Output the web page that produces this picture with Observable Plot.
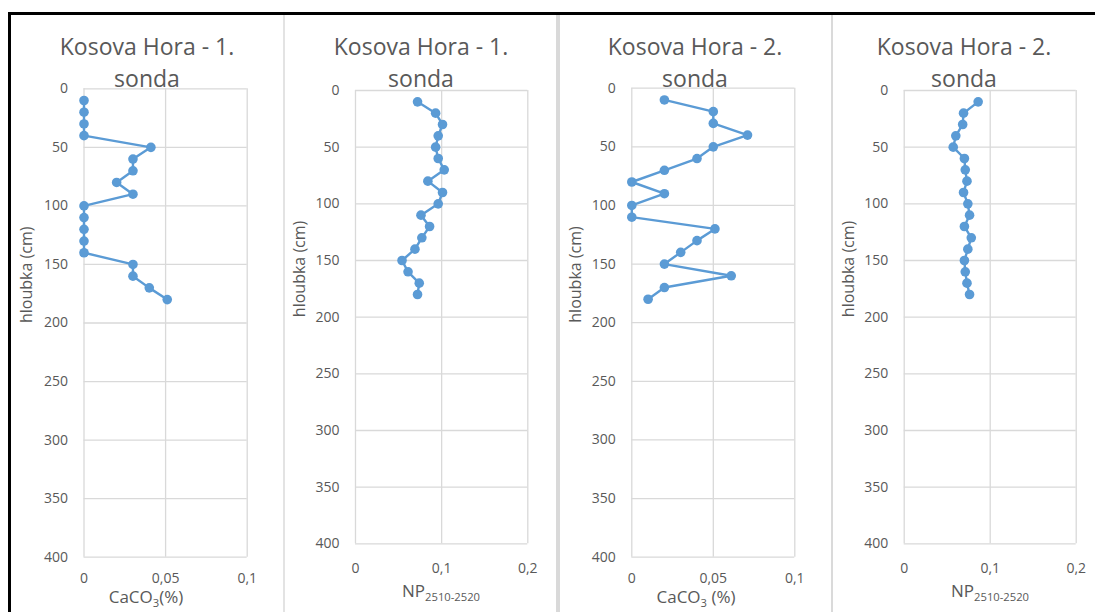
<!DOCTYPE html>
<html>
<head>
<meta charset="utf-8">
<script src="https://cdn.jsdelivr.net/npm/d3@7"></script>
<script src="https://cdn.jsdelivr.net/npm/@observablehq/plot@0.6"></script>
<style>
  html, body { margin: 0; padding: 0; background: #fff; }
  #root { position: relative; width: 1095px; height: 612px; overflow: hidden; font-family: "Open Sans", sans-serif; color: #595959; }
  .abs { position: absolute; }
  .title { font-size: 23px; line-height: 32px; text-align: center; white-space: nowrap; }
  .xlab { font-size: 17px; line-height: 20px; white-space: nowrap; transform: translateX(-50%); }
  .sub { font-size: 0.66em; position: relative; top: 0.4em; }
</style>
</head>
<body>
<div id="root"></div>
<script>
// ---- data ----
const depths = [10, 20, 30, 40, 50, 60, 70, 80, 90, 100, 110, 120, 130, 140, 150, 160, 170, 180];
const caco3Sonda1 = [0, 0, 0, 0, 0.041, 0.03, 0.03, 0.02, 0.03, 0, 0, 0, 0, 0, 0.03, 0.03, 0.04, 0.051];
const npSonda1 = [0.072, 0.093, 0.101, 0.096, 0.093, 0.096, 0.103, 0.084, 0.101, 0.096, 0.076, 0.086, 0.077, 0.069, 0.054, 0.061, 0.074, 0.072];
const caco3Sonda2 = [0.02, 0.05, 0.05, 0.071, 0.05, 0.04, 0.02, 0, 0.02, 0, 0, 0.051, 0.04, 0.03, 0.02, 0.061, 0.02, 0.01];
const npSonda2 = [0.086, 0.069, 0.068, 0.06, 0.057, 0.07, 0.071, 0.073, 0.069, 0.074, 0.076, 0.07, 0.078, 0.074, 0.07, 0.071, 0.073, 0.076];
const titles = ["Kosova Hora - 1.", "Kosova Hora - 1.", "Kosova Hora - 2.", "Kosova Hora - 2."];
const yLabel = "hloubka (cm)";
const depthTicks = [0, 50, 100, 150, 200, 250, 300, 350, 400];
const caco3Ticks = [0, 0.05, 0.1];
const npTicks = [0, 0.1, 0.2];

// ---- layout ----
const panels = [
  {values: caco3Sonda1, ticks: caco3Ticks, xlab: 'CaCO<span class="sub">3</span>(%)', left: 10, width: 274, x0: 83.5, x1: 246.7, y0: 88.3, y1: 556.7, tp: 16, ydx: -57, labX: 146, labTop: 587},
  {values: npSonda1, ticks: npTicks, xlab: 'NP<span class="sub">2510-2520</span>', left: 284, width: 274, x0: 355, x1: 527.3, y0: 90, y1: 543.3, tp: 19, ydx: -56, labX: 441, labTop: 581},
  {values: caco3Sonda2, ticks: caco3Ticks, xlab: 'CaCO<span class="sub">3</span> (%)', left: 558, width: 274, x0: 631.3, x1: 794.3, y0: 87.7, y1: 556.7, tp: 16, ydx: -56, labX: 696, labTop: 587},
  {values: npSonda2, ticks: npTicks, xlab: 'NP<span class="sub">2510-2520</span>', left: 833, width: 262, x0: 903.7, x1: 1075.7, y0: 90, y1: 543.3, tp: 19, ydx: -55, labX: 990, labTop: 581}
];

const root = document.getElementById("root");
const fmt = d => d === 0 ? "0" : String(d).replace(".", ",");
const blue = "#5b9bd5";
const grid = "#d9d9d9";

panels.forEach((p, i) => {
  const data = depths.map((d, k) => ({depth: d, value: p.values[k]}));
  const chart = Plot.plot({
    width: p.width,
    height: 612,
    marginLeft: p.x0 - p.left,
    marginRight: p.left + p.width - p.x1,
    marginTop: p.y0,
    marginBottom: 612 - p.y1,
    style: {fontFamily: "Open Sans", fontSize: "14px", color: "#595959", background: "transparent", overflow: "visible"},
    x: {domain: [0, p.ticks[p.ticks.length - 1]], ticks: p.ticks, tickFormat: fmt, tickSize: 0, tickPadding: p.tp, label: null},
    y: {domain: [0, 400], reverse: true, ticks: depthTicks, tickSize: 0, tickPadding: 16, label: null},
    marks: [
      Plot.gridX(p.ticks, {stroke: grid, strokeOpacity: 1, strokeWidth: 1.3}),
      Plot.gridY(depthTicks, {stroke: grid, strokeOpacity: 1, strokeWidth: 1.3}),
      Plot.line(data, {x: "value", y: "depth", stroke: blue, strokeWidth: 2.4}),
      Plot.dot(data, {x: "value", y: "depth", r: 4.8, fill: blue, stroke: "none"}),
      Plot.text([yLabel], {frameAnchor: "left", dx: p.ydx, rotate: -90, fontSize: 16, fill: "#595959"})
    ]
  });
  chart.style.position = "absolute";
  chart.style.left = p.left + "px";
  chart.style.top = "0px";
  root.appendChild(chart);

  const t = document.createElement("div");
  t.className = "abs title";
  t.style.left = p.left + "px";
  t.style.width = p.width + "px";
  t.style.top = "30px";
  t.innerHTML = titles[i] + "<br>sonda";
  root.appendChild(t);

  const xl = document.createElement("div");
  xl.className = "abs xlab";
  xl.style.left = p.labX + "px";
  xl.style.top = p.labTop + "px";
  xl.innerHTML = p.xlab;
  root.appendChild(xl);
});

// separators and border
function rect(l, t, w, h, c) {
  const r = document.createElement("div");
  r.className = "abs";
  Object.assign(r.style, {left: l + "px", top: t + "px", width: w + "px", height: h + "px", background: c});
  root.appendChild(r);
}
rect(283, 14, 2, 598, "#e3e3e3");
rect(556, 14, 4, 598, "#d9d9d9");
rect(831, 14, 2, 598, "#dadada");
rect(8, 12, 1087, 3, "#000");
rect(8, 12, 3, 600, "#000");
</script>
</body>
</html>
